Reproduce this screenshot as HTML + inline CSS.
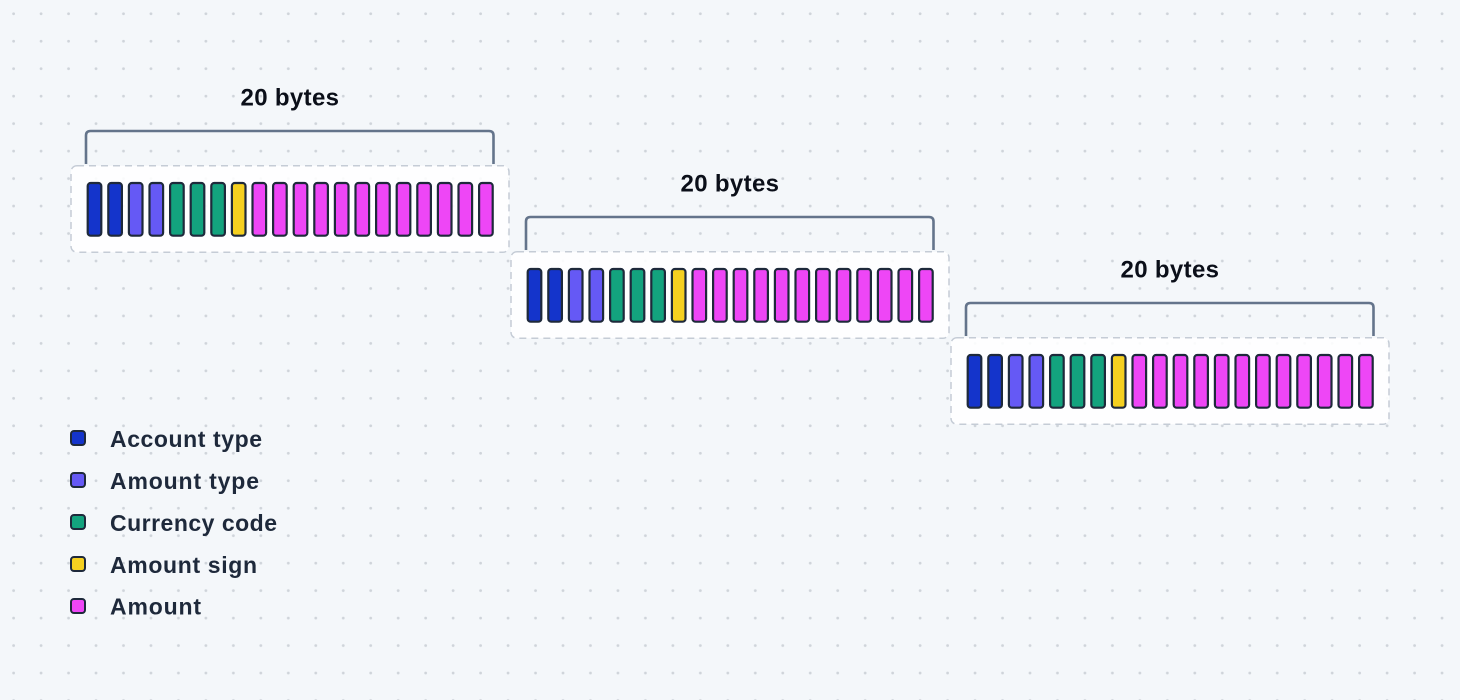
<!DOCTYPE html>
<html><head><meta charset="utf-8"><style>
html,body{margin:0;padding:0;background:#f4f7fa;}
svg{display:block;}
text{font-family:"Liberation Sans",sans-serif;}
</style></head><body>
<svg width="1460" height="700" viewBox="0 0 1460 700" xmlns="http://www.w3.org/2000/svg">
<defs>
<pattern id="dots" x="0" y="0" width="27.47" height="27.47" patternUnits="userSpaceOnUse">
<circle cx="13.6" cy="13.7" r="1.4" fill="#cfd4da"/>
</pattern>
<g id="row">
  <path d="M86 164 V135.5 Q86 131 90.5 131 H489 Q493.5 131 493.5 135.5 V164" fill="none" stroke="#64748b" stroke-width="2.6"/>
  <rect x="71" y="165.7" width="438" height="86.6" rx="6" fill="#ffffff" fill-opacity="0.88" stroke="#c5ccd6" stroke-width="1.5" stroke-dasharray="7 5"/>
  <g stroke="#1e293b" stroke-width="2.2">
    <rect x="87.7" y="183" width="13.6" height="52.7" rx="3" fill="#1434cb"/>
    <rect x="108.3" y="183" width="13.6" height="52.7" rx="3" fill="#1434cb"/>
    <rect x="128.9" y="183" width="13.6" height="52.7" rx="3" fill="#6559f5"/>
    <rect x="149.5" y="183" width="13.6" height="52.7" rx="3" fill="#6559f5"/>
    <rect x="170.1" y="183" width="13.6" height="52.7" rx="3" fill="#13a37e"/>
    <rect x="190.7" y="183" width="13.6" height="52.7" rx="3" fill="#13a37e"/>
    <rect x="211.3" y="183" width="13.6" height="52.7" rx="3" fill="#13a37e"/>
    <rect x="231.9" y="183" width="13.6" height="52.7" rx="3" fill="#f5d020"/>
    <rect x="252.5" y="183" width="13.6" height="52.7" rx="3" fill="#ee46f6"/>
    <rect x="273.1" y="183" width="13.6" height="52.7" rx="3" fill="#ee46f6"/>
    <rect x="293.7" y="183" width="13.6" height="52.7" rx="3" fill="#ee46f6"/>
    <rect x="314.3" y="183" width="13.6" height="52.7" rx="3" fill="#ee46f6"/>
    <rect x="334.9" y="183" width="13.6" height="52.7" rx="3" fill="#ee46f6"/>
    <rect x="355.5" y="183" width="13.6" height="52.7" rx="3" fill="#ee46f6"/>
    <rect x="376.1" y="183" width="13.6" height="52.7" rx="3" fill="#ee46f6"/>
    <rect x="396.7" y="183" width="13.6" height="52.7" rx="3" fill="#ee46f6"/>
    <rect x="417.3" y="183" width="13.6" height="52.7" rx="3" fill="#ee46f6"/>
    <rect x="437.9" y="183" width="13.6" height="52.7" rx="3" fill="#ee46f6"/>
    <rect x="458.5" y="183" width="13.6" height="52.7" rx="3" fill="#ee46f6"/>
    <rect x="479.1" y="183" width="13.6" height="52.7" rx="3" fill="#ee46f6"/>
  </g>
</g>
</defs>
<rect width="1460" height="700" fill="#f4f7fa"/>
<rect width="1460" height="700" fill="url(#dots)"/>

<use href="#row"/>
<text x="240.5" y="105.5" font-size="24" font-weight="bold" fill="#0b0f19" textLength="98.5" lengthAdjust="spacing">20 bytes</text>

<use href="#row" transform="translate(440,86)"/>
<text x="680.5" y="191.5" font-size="24" font-weight="bold" fill="#0b0f19" textLength="98.5" lengthAdjust="spacing">20 bytes</text>

<use href="#row" transform="translate(880,172)"/>
<text x="1120.5" y="277.5" font-size="24" font-weight="bold" fill="#0b0f19" textLength="98.5" lengthAdjust="spacing">20 bytes</text>

<g stroke="#1e293b" stroke-width="2">
  <rect x="71" y="431" width="14" height="14" rx="3" fill="#1434cb"/>
  <rect x="71" y="473" width="14" height="14" rx="3" fill="#6559f5"/>
  <rect x="71" y="515" width="14" height="14" rx="3" fill="#13a37e"/>
  <rect x="71" y="557" width="14" height="14" rx="3" fill="#f5d020"/>
  <rect x="71" y="599" width="14" height="14" rx="3" fill="#ee46f6"/>
</g>
<g font-size="23" font-weight="bold" fill="#1e293b">
  <text x="110" y="446.8" textLength="152" lengthAdjust="spacing">Account type</text>
  <text x="110" y="488.9" textLength="149" lengthAdjust="spacing">Amount type</text>
  <text x="110" y="530.9" textLength="167" lengthAdjust="spacing">Currency code</text>
  <text x="110" y="572.8" textLength="147" lengthAdjust="spacing">Amount sign</text>
  <text x="110" y="614.6" textLength="91" lengthAdjust="spacing">Amount</text>
</g>
</svg>
</body></html>
